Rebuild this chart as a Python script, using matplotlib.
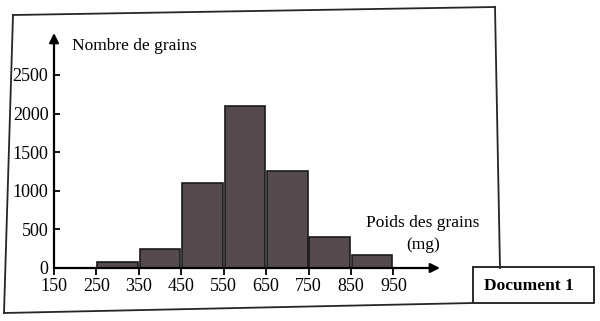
import matplotlib.pyplot as plt
from matplotlib.lines import Line2D
from matplotlib.patches import Rectangle

# Histogram data: grain weight classes (mg) and number of grains
class_edges = [250, 350, 450, 550, 650, 750, 850, 950]
grain_counts = [75, 250, 1100, 2100, 1250, 400, 170]
x_ticks = [150, 250, 350, 450, 550, 650, 750, 850, 950]
y_ticks = [0, 500, 1000, 1500, 2000, 2500]

W, H = 600, 321


def fx(x):
    return x / W


def fy(y):
    return 1 - y / H


def main():
    plt.rcParams['font.family'] = ['Liberation Serif', 'DejaVu Serif']
    fig = plt.figure(figsize=(W / 100, H / 100), dpi=100)

    # axes: x=150 at px 54, y=0 at px 268, arrows end at 440 / 33
    ax = fig.add_axes([fx(54), fy(268), (440 - 54) / W, (268 - 33) / H])
    ax.set_xlim(150, 1060)
    ax.set_ylim(0, 3044)

    lefts = class_edges[:-1]
    ax.bar([l + 2 for l in lefts], grain_counts, width=96, align='edge',
           color='#554b4f', edgecolor='#1a1a1a', linewidth=1.2, zorder=2)

    for s in ax.spines.values():
        s.set_visible(False)
    arrow = dict(arrowstyle='-|>', color='black', lw=1.6, mutation_scale=14,
                 shrinkA=0, shrinkB=0)
    ax.annotate('', xy=(1, 0), xytext=(0, 0), xycoords='axes fraction',
                arrowprops=arrow, zorder=3)
    ax.annotate('', xy=(0, 1), xytext=(0, 0), xycoords='axes fraction',
                arrowprops=arrow, zorder=3)

    ax.set_xticks(x_ticks)
    ax.set_yticks(y_ticks)
    ax.tick_params(axis='x', direction='out', length=5, width=1.3, labelsize=13, pad=2)
    ax.tick_params(axis='y', direction='in', length=4, width=1.3, labelsize=13, pad=4)

    fig.text(fx(72), fy(46), 'Nombre de grains', fontsize=12.5, ha='left', va='center')
    fig.text(fx(423), fy(223), 'Poids des grains', fontsize=12.5, ha='center', va='center')
    fig.text(fx(423), fy(245), '(mg)', fontsize=12.5, ha='center', va='center')

    # scanned document frame (slightly skewed)
    frame = [((13, 15), (495, 7)), ((13, 15), (4, 313)), ((4, 313), (473, 303)),
             ((495, 7), (500, 268))]
    for (x0, y0), (x1, y1) in frame:
        fig.add_artist(Line2D([fx(x0), fx(x1)], [fy(y0), fy(y1)],
                              color='#2a2426', lw=1.3))

    fig.add_artist(Rectangle((fx(473), fy(303)), (594 - 473) / W, (303 - 267) / H,
                             facecolor='white', edgecolor='#1a1a1a', lw=1.3,
                             transform=fig.transFigure))
    fig.text(fx(529), fy(286), 'Document 1', fontsize=12.5, fontweight='bold',
             ha='center', va='center')

    fig.savefig('out.png', dpi=100)


if __name__ == '__main__':
    main()
